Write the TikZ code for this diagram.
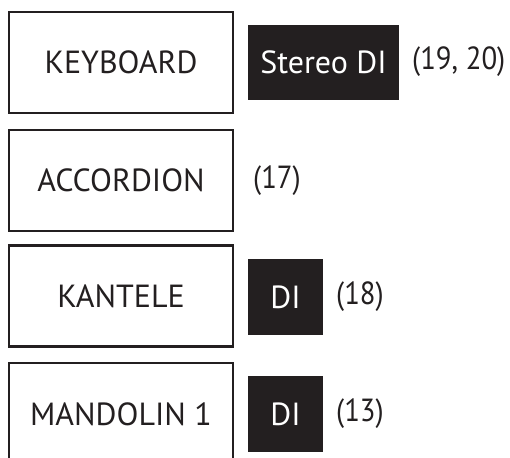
\documentclass[tikz,border=0pt]{standalone}
\usepackage{fontspec}
\setmainfont{PT Sans}
\definecolor{ink}{HTML}{231F20}
\newcommand{\narrowtxt}[1]{\scalebox{0.9}[1]{#1}}
\begin{document}
\begin{tikzpicture}[x=1pt,y=-1pt,
  instr/.style={draw=ink,line width=2.4pt,fill=white,minimum width=224pt,minimum height=101pt,inner sep=0pt,text=ink,font=\fontsize{32}{34}\selectfont},
  dibox/.style={fill=ink,draw=none,inner sep=0pt,text=white,font=\fontsize{32}{34}\selectfont},
  lbl/.style={anchor=west,inner sep=0pt,text=ink,font=\fontsize{32}{34}\selectfont}]
\useasboundingbox (0,0) rectangle (510,457);
\clip (0,0) rectangle (510,457);
\node[instr] (kb) at (121,62.5) {KEYBOARD};
\node[instr] (acc) at (121,180.5) {ACCORDION};
\node[instr] (kan) at (121,296) {KANTELE};
\node[instr,minimum height=120pt] (man) at (121,423) {};
\node[text=ink,font=\fontsize{32}{34}\selectfont] (mant) at (121,414) {MANDOLIN 1};
\node[dibox,minimum width=151pt,minimum height=75pt] (sdi) at (323.5,62.5) {Stereo DI};
\node[dibox,minimum width=75pt,minimum height=76pt] (di1) at (285.5,297) {DI};
\node[dibox,minimum width=75pt,minimum height=76pt] (di2) at (285.5,414) {DI};
\node[lbl] (l1) at (412,62) {\narrowtxt{(19, 20)}};
\node[lbl] (l2) at (253,181) {\narrowtxt{(17)}};
\node[lbl] (l3) at (336,297) {\narrowtxt{(18)}};
\node[lbl] (l4) at (336,414) {\narrowtxt{(13)}};
\end{tikzpicture}
\end{document}
